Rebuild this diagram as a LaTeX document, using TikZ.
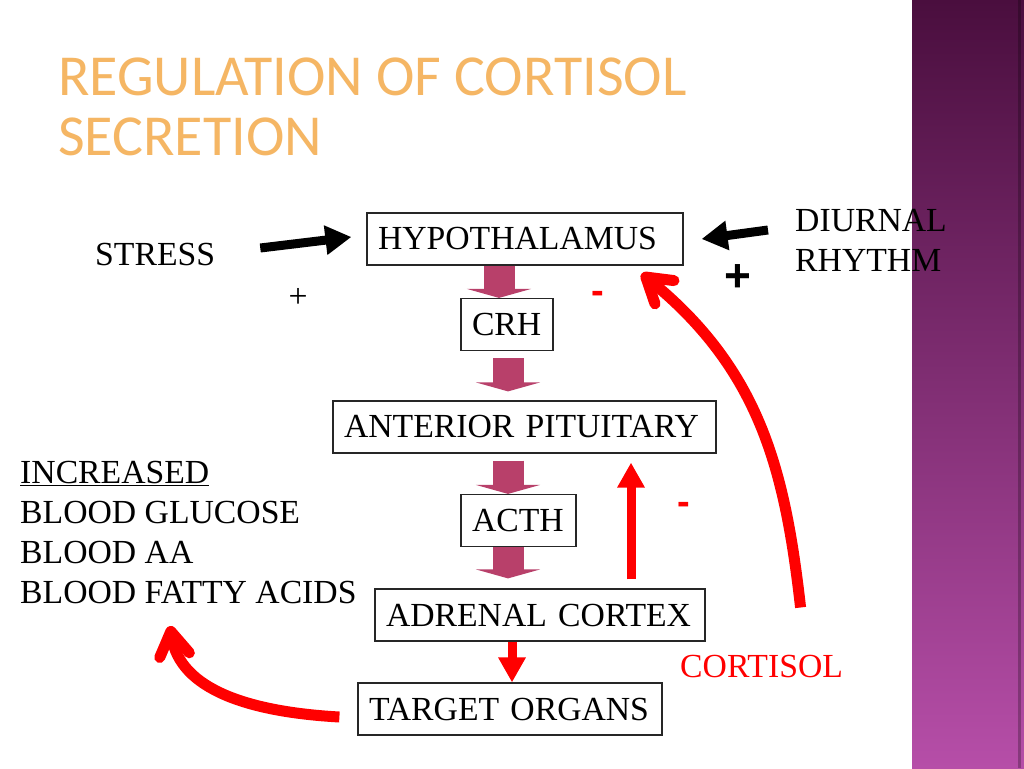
\documentclass[tikz,border=0pt]{standalone}
\usepackage{fontspec}
\setmainfont{Liberation Serif}
\newfontfamily\headfont{Carlito}
\newfontfamily\signfont{Liberation Sans}
\usetikzlibrary{positioning}
\usetikzlibrary{arrows.meta}
\hyphenpenalty=10000

\definecolor{titleorange}{RGB}{245,182,100}
\definecolor{blockred}{RGB}{184,64,106}
\definecolor{bandtop}{RGB}{74,14,62}
\definecolor{bandmid}{RGB}{140,50,128}
\definecolor{bandbot}{RGB}{182,78,168}
\definecolor{fbred}{RGB}{255,0,0}

\begin{document}
\begin{tikzpicture}[
    x=1pt, y=-1pt,
    organ/.style={draw=black!85, line width=1.2pt, fill=white, inner xsep=11pt, inner ysep=0pt, minimum height=52pt, align=left, font=\fontsize{33.7}{40}\selectfont},
    lbl/.style={inner sep=0, align=left, font=\fontsize{33.7}{40}\selectfont},
    sign/.style={inner sep=0, font=\signfont\bfseries\fontsize{38}{38}\selectfont},
    blockarr/.style={-{Triangle[length=9pt, width=64pt]}, line width=31pt, draw=blockred},
    pusharr/.style={-{Triangle[length=26pt, width=28pt]}, line width=9pt, draw=black},
    risearr/.style={-{Triangle[length=25pt, width=26pt]}, line width=9pt, draw=fbred},
    swingarr/.style={-{Straight Barb[length=24pt, width=30pt, round]}, line width=11pt, draw=fbred}
]
\useasboundingbox (0,0) rectangle (1024,768);
\fill[white] (0,0) rectangle (1024,768);

% side band
\shade[top color=bandtop, middle color=bandmid, bottom color=bandbot] (912,0) rectangle (1024,768);
\fill[black, opacity=0.25] (1018,0) rectangle (1021,768);

% Title
\node[anchor=base west, inner sep=0, align=left, text=titleorange, font=\headfont\fontsize{58}{60}\selectfont] (title) at (58,155) {REGULATION OF CORTISOL\\SECRETION};

% Axis
\node[organ, text width=294pt] (hyp) at (525,239) {HYPOTHALAMUS};
\node[organ, text width=70pt] (crh) at (507,324.5) {CRH};
\node[organ, text width=361pt] (ant) at (524.5,427) {ANTERIOR PITUITARY};
\node[organ, text width=93pt] (acth) at (518.5,520.5) {ACTH};
\node[organ, text width=308pt] (adr) at (540,615) {ADRENAL CORTEX};
\node[organ, text width=282pt] (tgt) at (510,709) {TARGET ORGANS};

\coordinate (crhcol) at (499,0);
\coordinate (spine) at (508,0);
\draw[blockarr] (hyp.south -| crhcol) -- (crh.north -| crhcol);
\draw[blockarr, shorten <=7pt, shorten >=9pt] (crh.south -| spine) -- (ant.north -| spine);
\draw[blockarr, shorten <=7pt] (ant.south -| spine) -- (acth.north -| spine);
\draw[blockarr, shorten >=10pt] (acth.south -| spine) -- (adr.north -| spine);

% Inputs
\node[lbl, anchor=base west] (stress) at (95,265) {STRESS};
\node[lbl, anchor=base west] (diurnal) at (795,271) {DIURNAL\\RHYTHM};
\draw[pusharr] ([xshift=45pt,yshift=6pt]stress.east) -- ([xshift=-15pt,yshift=2pt]hyp.west);
\draw[pusharr] ([xshift=-27pt,yshift=41pt]diurnal.base west) -- ([xshift=18pt]hyp.east);
\node[lbl] (stressplus) at (298,298) {+};
\node[sign, font=\signfont\bfseries\fontsize{46}{46}\selectfont] (rhythmplus) at (738,278) {+};

% Feedback
\node[lbl, anchor=base west, text=fbred] (cort) at (680,677) {CORTISOL};
\node[sign, text=fbred] (hypminus) at (598,297) {-};
\node[sign, text=fbred] (antminus) at (684,508) {-};
\draw[risearr] ([xshift=91pt,yshift=9pt]adr.north) -- ([xshift=106.5pt,yshift=-9pt]ant.south);
\draw[risearr] ([xshift=-28pt]adr.south) -- ([xshift=-28pt]adr.south |- tgt.north);
\draw[swingarr] ([xshift=39pt,yshift=47pt]cort.north) .. controls (785,470) and (760,370) .. ([xshift=-42pt,yshift=-8pt]hyp.south east);

% Effects
\node[lbl, anchor=base west] (effects) at (20,603) {\underline{INCREASED}\\BLOOD GLUCOSE\\BLOOD AA\\BLOOD FATTY ACIDS};
\coordinate (uptake) at (170,626);
\draw[swingarr] ([xshift=-18pt,yshift=-8pt]tgt.west) .. controls (250,712) and (180,690) .. (uptake);

\end{tikzpicture}
\end{document}
